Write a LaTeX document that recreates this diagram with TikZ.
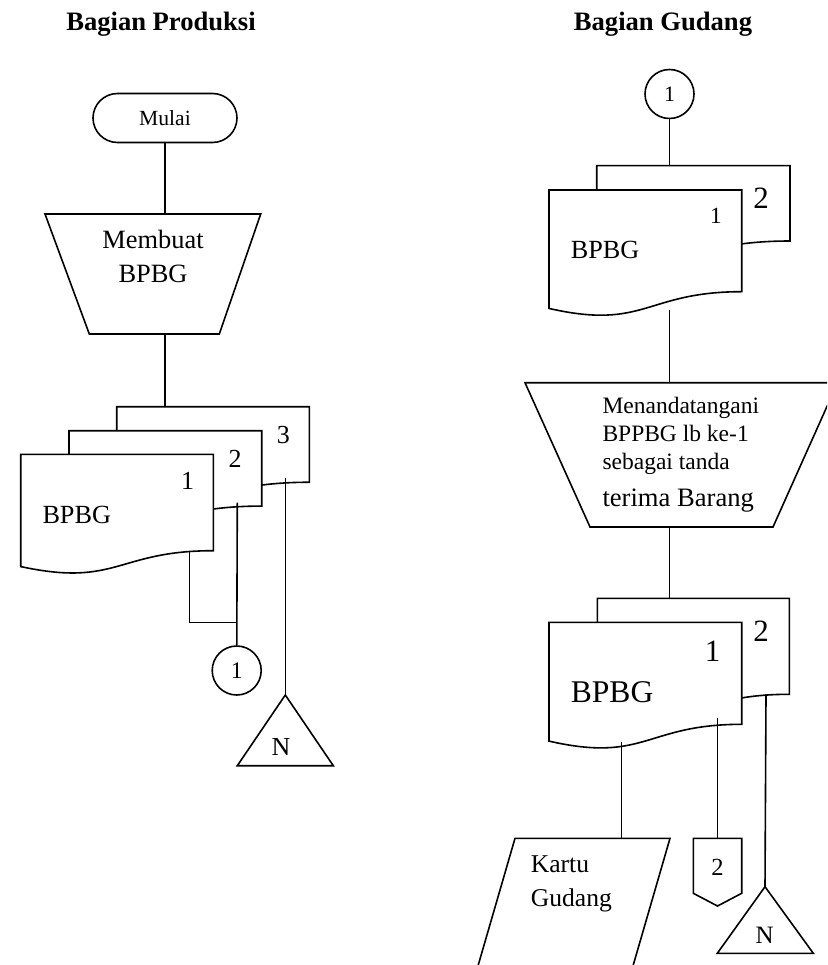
\documentclass[tikz,border=0pt]{standalone}
\usepackage{fontspec}
\setmainfont{Liberation Serif}
\usetikzlibrary{positioning}

\tikzset{
  bangun/.style={draw, fill=white, line join=miter},
  teks/.style={inner sep=0pt},
}

% dokumen: x kiri, y atas, lebar, tinggi (bawah bergelombang)
\newcommand{\dokumen}[4]{%
  \draw[bangun] (#1,#2) -- ({#1+#3},#2) -- ({#1+#3},{#2+0.802*#4})
    .. controls ({#1+0.5*#3},{#2+0.802*#4}) and ({#1+0.5*#3},{#2+1.1075*#4})
    .. (#1,{#2+0.934*#4}) -- cycle;}

\begin{document}
\begin{tikzpicture}[x=1pt, y=-1pt, line width=1.6pt]
  \useasboundingbox (0,0) rectangle (827,965);
  \clip (0,0) rectangle (827,965);

  % judul kolom
  \node[teks, anchor=base, font=\fontsize{26.6}{32}\selectfont\bfseries] (judulProduksi) at (161,30.7) {Bagian Produksi};
  \node[teks, anchor=base, font=\fontsize{26.6}{32}\selectfont\bfseries] (judulGudang) at (663,30.5) {Bagian Gudang};

  % ===== Bagian Produksi =====
  % Mulai
  \node[draw, rounded corners=24.5pt, minimum width=144pt, minimum height=49pt, inner sep=0pt,
        font=\fontsize{21.6}{26}\selectfont] (mulai) at (165,118) {Mulai};
  % Membuat BPBG (baris terakhir jadi patokan base)
  \draw[bangun] (45,214) -- (260.7,214) -- (219.3,334) -- (89.3,334) -- cycle;
  \coordinate (buat-atas) at (165,214);
  \coordinate (buat-bawah) at (165,334);
  \node[teks, align=center, anchor=base, font=\fontsize{26.4}{34.4}\selectfont] (buat) at (153,282.7) {Membuat\\BPBG};
  % BPBG lembar 1-3
  \dokumen{116.7}{406.7}{192.6}{94.2}
  \dokumen{69}{430.7}{192.7}{94}
  \dokumen{20.7}{454.3}{192.6}{120.2}
  \node[teks, anchor=base, font=\fontsize{26}{31}\selectfont] (lbr3P) at (283.3,443.3) {3};
  \node[teks, anchor=base, font=\fontsize{26}{31}\selectfont] (lbr2P) at (235,467.3) {2};
  \node[teks, anchor=base, font=\fontsize{26}{31}\selectfont] (lbr1P) at (187.7,489.3) {1};
  \node[teks, anchor=base west, font=\fontsize{26.2}{31}\selectfont] (bpbgP) at (41.7,523.3) {BPBG};
  \coordinate (lbr3P-atas) at (165,406.7);
  \coordinate (lbr1P-keluar) at (189.3,550.7);
  \coordinate (lbr2P-keluar) at (237.3,502.7);
  \coordinate (lbr3P-keluar) at (285.3,478.3);
  \coordinate (gabungP) at (237.3,622.3);
  % penghubung ke gudang dan arsip
  \node[draw, circle, minimum size=49pt, inner sep=0pt, font=\fontsize{23.7}{28}\selectfont] (keGudang) at (236.7,670.5) {1};
  \draw[bangun] (285.3,695) -- (333.3,765.7) -- (237.3,765.7) -- cycle;
  \coordinate (arsipP) at (285.3,695);
  \node[teks, anchor=base, font=\fontsize{26}{31}\selectfont] (nP) at (281,755) {N};

  \draw (mulai) -- (buat-atas);
  \draw (buat-bawah) -- (lbr3P-atas);
  \draw (lbr1P-keluar) |- (gabungP);
  \draw (lbr2P-keluar) -- (keGudang);
  \draw (lbr3P-keluar) -- (arsipP);

  % ===== Bagian Gudang =====
  \node[draw, circle, minimum size=49pt, inner sep=0pt, font=\fontsize{22}{26}\selectfont] (dariProduksi) at (669.5,94) {1};
  % BPBG diterima
  \dokumen{596.7}{165.7}{193.3}{93.9}
  \dokumen{549}{190}{192.7}{126.8}
  \node[teks, anchor=base, font=\fontsize{31}{37}\selectfont] (lbr2G) at (761,208.3) {2};
  \node[teks, anchor=base, font=\fontsize{23.2}{28}\selectfont] (lbr1G) at (716,224) {1};
  \node[teks, anchor=base west, font=\fontsize{26.2}{31}\selectfont] (bpbgG) at (570,258.3) {BPBG};
  \coordinate (bpbgG-atas) at (669.5,165.7);
  \coordinate (bpbgG-keluar) at (669.3,310);
  % tanda tangan
  \draw[bangun] (525,382.7) -- (837.6,382.7) -- (773,527) -- (590,527) -- cycle;
  \coordinate (ttd-atas) at (669.3,382.7);
  \coordinate (ttd-bawah) at (669.3,527);
  \node[teks, align=left, anchor=base west, font=\fontsize{23.5}{27.7}\selectfont] (ttd) at (601.7,506.7)
    {Menandatangani\\BPPBG lb ke-1\\sebagai tanda\\[10pt]{\fontsize{26.6}{27.7}\selectfont terima Barang}};
  % BPBG yang sudah ditandatangani
  \dokumen{597.3}{598.3}{192}{119.7}
  \dokumen{549}{622.3}{192.7}{127.2}
  \node[teks, anchor=base, font=\fontsize{31}{37}\selectfont] (arsip2G) at (761,641) {2};
  \node[teks, anchor=base, font=\fontsize{31}{37}\selectfont] (arsip1G) at (712.7,661) {1};
  \node[teks, anchor=base west, font=\fontsize{31.6}{37}\selectfont] (arsipBpbg) at (570,702.7) {BPBG};
  \coordinate (arsip-atas) at (669.3,598.3);
  \coordinate (arsip-kartu) at (621.5,741.7);
  \coordinate (arsip1-keluar) at (717.5,718.3);
  \coordinate (arsip2-keluar) at (766,694.3);
  % Kartu Gudang
  \draw[bangun] (515,838.3) -- (670,838.3) -- (626,990) -- (471,990) -- cycle;
  \coordinate (kartu-atas) at (621.5,838.3);
  \node[teks, align=left, anchor=base west, font=\fontsize{25.6}{34}\selectfont] (kartu) at (530,906.7) {Kartu\\Gudang};
  % penghubung lain halaman
  \draw[bangun] (693.3,838.3) -- (741.7,838.3) -- (741.7,893.3) -- (717.5,906) -- (693.3,893.3) -- cycle;
  \coordinate (halaman-atas) at (717.5,838.3);
  \node[teks, anchor=base, font=\fontsize{24.6}{29}\selectfont] (halaman) at (717.5,875) {2};
  % arsip
  \draw[bangun] (765,886.7) -- (813.3,953.3) -- (717.3,953.3) -- cycle;
  \coordinate (arsipG) at (765,886.7);
  \node[teks, anchor=base, font=\fontsize{25}{30}\selectfont] (nG) at (764.7,943.3) {N};

  \draw (dariProduksi) -- (bpbgG-atas);
  \draw (bpbgG-keluar) -- (ttd-atas);
  \draw (ttd-bawah) -- (arsip-atas);
  \draw (arsip-kartu) -- (kartu-atas);
  \draw (arsip1-keluar) -- (halaman-atas);
  \draw (arsip2-keluar) -- (arsipG);
\end{tikzpicture}
\end{document}
